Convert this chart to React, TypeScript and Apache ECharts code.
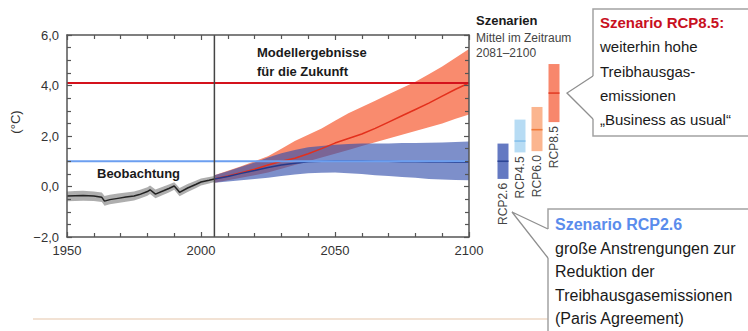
import React, { useEffect, useRef } from "react";
import * as echarts from "echarts";

// ---------- data ----------
const obsYears = [1950, 1953, 1956, 1960, 1963, 1964, 1966, 1969, 1972, 1975, 1977, 1980, 1981, 1983, 1986, 1988, 1990, 1991, 1992, 1995, 1998, 2000, 2003, 2005];
const obsMean = [-0.38, -0.37, -0.36, -0.38, -0.43, -0.58, -0.52, -0.47, -0.42, -0.38, -0.32, -0.2, -0.13, -0.3, -0.17, -0.08, 0.02, -0.1, -0.23, -0.06, 0.08, 0.18, 0.25, 0.3];
const obsUpper = [-0.2, -0.18, -0.17, -0.2, -0.24, -0.38, -0.33, -0.28, -0.24, -0.2, -0.14, -0.03, 0.04, -0.12, 0.0, 0.08, 0.17, 0.06, -0.06, 0.1, 0.23, 0.32, 0.38, 0.42];
const obsLower = [-0.58, -0.57, -0.56, -0.57, -0.61, -0.76, -0.7, -0.65, -0.6, -0.55, -0.49, -0.37, -0.3, -0.47, -0.33, -0.24, -0.13, -0.26, -0.39, -0.22, -0.07, 0.04, 0.12, 0.18];

const projYears = [2005, 2010, 2015, 2020, 2025, 2030, 2035, 2040, 2045, 2050, 2055, 2060, 2065, 2070, 2075, 2080, 2085, 2090, 2095, 2100];
const rcp85Mean = [0.3, 0.42, 0.55, 0.68, 0.85, 1.0, 1.12, 1.3, 1.5, 1.72, 1.9, 2.08, 2.3, 2.55, 2.8, 3.05, 3.3, 3.58, 3.85, 4.1];
const rcp85Upper = [0.45, 0.62, 0.8, 1.0, 1.2, 1.5, 1.8, 2.05, 2.3, 2.6, 2.9, 3.15, 3.4, 3.65, 3.9, 4.15, 4.45, 4.75, 5.1, 5.45];
const rcp85Lower = [0.15, 0.25, 0.35, 0.45, 0.55, 0.7, 0.85, 1.0, 1.15, 1.3, 1.45, 1.6, 1.75, 1.9, 2.05, 2.2, 2.35, 2.5, 2.68, 2.85];
const rcp26Mean = [0.3, 0.4, 0.52, 0.63, 0.75, 0.85, 0.92, 0.98, 1.0, 1.02, 1.02, 1.02, 1.0, 1.0, 0.98, 0.98, 0.97, 0.97, 0.96, 0.96];
const rcp26Upper = [0.45, 0.6, 0.78, 0.95, 1.15, 1.32, 1.45, 1.55, 1.6, 1.65, 1.68, 1.7, 1.7, 1.7, 1.72, 1.72, 1.73, 1.74, 1.76, 1.78];
const rcp26Lower = [0.15, 0.2, 0.25, 0.3, 0.35, 0.42, 0.48, 0.52, 0.54, 0.55, 0.52, 0.5, 0.45, 0.42, 0.38, 0.35, 0.3, 0.28, 0.26, 0.25];

const level85 = 4.1;
const level26 = 1.0;
const splitYear = 2005;

const scenarios = ["RCP2.6", "RCP4.5", "RCP6.0", "RCP8.5"];
const scenMean = [1.0, 1.8, 2.25, 3.7];
const scenLow = [0.3, 1.35, 1.4, 2.55];
const scenHigh = [1.7, 2.65, 3.15, 4.85];

const yTicks = [-2, 0, 2, 4, 6];
const xTicks = [1950, 2000, 2050, 2100];

// ---------- styles ----------
const FONT = '"Liberation Sans", Arial, Helvetica, sans-serif';
const scenFill = ["#6479c2", "#b7dcf4", "#fbb58f", "#f8876c"];
const scenLine = ["#2c4595", "#86c0ea", "#f07a3a", "#e33d26"];
const GRID = { left: 67, top: 35, width: 402, height: 202 };

const mkLine = () => ({ show: true, onZero: false, lineStyle: { color: "#555", width: 1.5 } });
const mkTick = () => ({ show: true, inside: true, length: 5, lineStyle: { color: "#555", width: 1.2 } });
const mkMinor = (n: number) => ({ show: true, splitNumber: n, length: 4, lineStyle: { color: "#555", width: 1.2 } });

function bandSeries(years: number[], lower: number[], upper: number[], fill: string, z: number) {
  return {
    type: "custom",
    xAxisIndex: 0,
    yAxisIndex: 0,
    z,
    silent: true,
    data: years.map((y, i) => [y, lower[i], upper[i]]),
    encode: { x: 0, y: [1, 2] },
    renderItem: (params: any, api: any) => {
      if (params.dataIndex !== 0) return null;
      const pts: number[][] = [];
      for (let i = 0; i < years.length; i++) pts.push(api.coord([years[i], upper[i]]));
      for (let i = years.length - 1; i >= 0; i--) pts.push(api.coord([years[i], lower[i]]));
      return { type: "polygon", shape: { points: pts }, style: { fill } };
    },
  };
}

function lineSeries(data: number[][], color: string, width: number, z: number) {
  return {
    type: "line",
    xAxisIndex: 0,
    yAxisIndex: 0,
    z,
    silent: true,
    symbol: "none",
    data,
    lineStyle: { color, width },
  };
}

function txt(text: string, x: number, y: number, size: number, opts: any = {}) {
  return {
    type: "text",
    x,
    y,
    z: 100,
    rotation: opts.rotation || 0,
    style: {
      text,
      fill: opts.fill || "#1a1a1a",
      font: `${opts.bold ? "bold " : ""}${size}px ${FONT}`,
      align: opts.align || "left",
      verticalAlign: "middle",
      textAlign: opts.align || "left",
      textVerticalAlign: "middle",
    },
  };
}

const staticGraphics: any[] = [
  txt("(\u00B0C)", 15, 122, 13, { rotation: Math.PI / 2, align: "center", fill: "#333" }),
  txt("Modellergebnisse", 257, 52, 13, { bold: true }),
  txt("f\u00FCr die Zukunft", 257, 71, 13, { bold: true }),
  txt("Beobachtung", 97, 173, 13, { bold: true }),
  txt("Szenarien", 476, 20, 13, { bold: true }),
  txt("Mittel im Zeitraum", 476, 38, 12, { fill: "#444" }),
  txt("2081\u20132100", 476, 53, 12, { fill: "#444" }),
  {
    type: "line",
    z: 90,
    shape: { x1: 33, y1: 319, x2: 548, y2: 319 },
    style: { stroke: "#f2e2d4", lineWidth: 2 },
  },
  {
    type: "rect",
    z: 95,
    shape: { x: 593, y: 9, width: 170, height: 127 },
    style: { fill: "#fff", stroke: "#a3a3a3", lineWidth: 1.5 },
  },
  {
    type: "polygon",
    z: 96,
    shape: { points: [[567, 93], [593, 76], [595, 76], [595, 119], [593, 119]] },
    style: { fill: "#fff" },
  },
  {
    type: "polyline",
    z: 97,
    shape: { points: [[593, 76], [567, 93], [593, 119]] },
    style: { stroke: "#8f8f8f", lineWidth: 1.3, fill: "none" },
  },
  txt("Szenario RCP8.5:", 600, 22, 15, { bold: true, fill: "#c8101e" }),
  txt("weiterhin hohe", 600, 46, 15),
  txt("Treibhausgas-", 600, 71, 15),
  txt("emissionen", 600, 95, 15),
  txt("\u201EBusiness as usual\u201C", 600, 119, 15),
  {
    type: "rect",
    z: 95,
    shape: { x: 548, y: 209, width: 210, height: 140 },
    style: { fill: "#fff", stroke: "#a3a3a3", lineWidth: 1.5 },
  },
  {
    type: "polygon",
    z: 96,
    shape: { points: [[512, 212], [548, 229], [550, 229], [550, 258], [548, 258]] },
    style: { fill: "#fff" },
  },
  {
    type: "polyline",
    z: 97,
    shape: { points: [[548, 229], [512, 212], [548, 258]] },
    style: { stroke: "#8f8f8f", lineWidth: 1.3, fill: "none" },
  },
  txt("Szenario RCP2.6", 555, 224, 16, { bold: true, fill: "#5a8cec" }),
  txt("gro\u00DFe Anstrengungen zur", 555, 248, 16),
  txt("Reduktion der", 555, 271, 16),
  txt("Treibhausgasemissionen", 555, 295, 16),
  txt("(Paris Agreement)", 555, 318, 16),
];

// overlay with the plot frame: four axes with inward major/minor ticks
const frameOption: any = {
  animation: false,
  grid: [{ ...GRID }],
  xAxis: [
    { type: "value", min: 1950, max: 2100, interval: 50, position: "bottom", axisLine: mkLine(), axisTick: mkTick(), minorTick: mkMinor(5), splitLine: { show: false }, axisLabel: { show: false } },
    { type: "value", min: 1950, max: 2100, interval: 50, position: "top", axisLine: mkLine(), axisTick: mkTick(), minorTick: mkMinor(5), splitLine: { show: false }, axisLabel: { show: false } },
  ],
  yAxis: [
    { type: "value", min: -2, max: 6, interval: 2, position: "left", axisLine: mkLine(), axisTick: mkTick(), minorTick: mkMinor(4), splitLine: { show: false }, axisLabel: { show: false } },
    { type: "value", min: -2, max: 6, interval: 2, position: "right", axisLine: mkLine(), axisTick: mkTick(), minorTick: mkMinor(4), splitLine: { show: false }, axisLabel: { show: false } },
  ],
};

export default function App() {
  const ref = useRef<HTMLDivElement>(null);
  const frameRef = useRef<HTMLDivElement>(null);

  useEffect(() => {
    if (!ref.current || !frameRef.current) return;
    const chart = echarts.init(ref.current, undefined, { renderer: "svg" });
    const frame = echarts.init(frameRef.current, undefined, { renderer: "svg" });

    const option: any = {
      animation: false,
      grid: [
        { ...GRID },
        { left: 494.5, top: 35, width: 68, height: 202 },
      ],
      xAxis: [
        {
          type: "value",
          gridIndex: 0,
          min: 1950,
          max: 2100,
          interval: 50,
          position: "bottom",
          axisLine: { show: false },
          axisTick: { show: false },
          splitLine: { show: false },
          axisLabel: {
            color: "#333",
            fontSize: 13,
            fontFamily: FONT,
            margin: 7,
            formatter: (v: number) => (xTicks.includes(v) ? String(v) : ""),
          },
        },
        {
          type: "category",
          gridIndex: 1,
          data: scenarios,
          axisLine: { show: false },
          axisTick: { show: false },
          axisLabel: { show: false },
          splitLine: { show: false },
        },
      ],
      yAxis: [
        {
          type: "value",
          gridIndex: 0,
          min: -2,
          max: 6,
          interval: 2,
          position: "left",
          axisLine: { show: false },
          axisTick: { show: false },
          splitLine: { show: false },
          axisLabel: {
            color: "#333",
            fontSize: 13,
            fontFamily: FONT,
            margin: 8,
            formatter: (v: number) =>
              yTicks.includes(v) ? v.toFixed(1).replace(".", ",").replace("-", "\u2212") : "",
          },
        },
        {
          type: "value",
          gridIndex: 1,
          min: -2,
          max: 6,
          axisLine: { show: false },
          axisTick: { show: false },
          axisLabel: { show: false },
          splitLine: { show: false },
        },
      ],
      series: [
        bandSeries(projYears, rcp85Lower, rcp85Upper, "#f98b6e", 1),
        bandSeries(projYears, rcp26Lower, rcp26Upper, "rgba(52,80,172,0.64)", 2),
        bandSeries(obsYears, obsLower, obsUpper, "rgba(120,120,120,0.6)", 3),
        lineSeries(projYears.map((y, i) => [y, rcp85Mean[i]]), "#e3301c", 1.5, 4),
        lineSeries(projYears.map((y, i) => [y, rcp26Mean[i]]), "#25398a", 1.5, 4),
        lineSeries(obsYears.map((y, i) => [y, obsMean[i]]), "#222222", 1.5, 4),
        lineSeries([[1950, level85], [2100, level85]], "#d4121c", 2, 5),
        lineSeries([[1950, level26], [2100, level26]], "#6c9ff0", 2, 5),
        lineSeries([[splitYear, -2], [splitYear, 6]], "#444444", 1.5, 6),
        {
          type: "custom",
          xAxisIndex: 1,
          yAxisIndex: 1,
          z: 5,
          silent: true,
          data: scenarios.map((s, i) => [i, scenLow[i], scenHigh[i], scenMean[i]]),
          encode: { x: 0, y: [1, 2, 3] },
          renderItem: (params: any, api: any) => {
            const i = params.dataIndex;
            const x = api.value(0);
            const pTop = api.coord([x, api.value(2)]);
            const pBot = api.coord([x, api.value(1)]);
            const pM = api.coord([x, api.value(3)]);
            const w = 11;
            return {
              type: "group",
              children: [
                {
                  type: "rect",
                  shape: { x: pTop[0] - w / 2, y: pTop[1], width: w, height: pBot[1] - pTop[1] },
                  style: { fill: scenFill[i] },
                },
                {
                  type: "line",
                  shape: { x1: pM[0] - w / 2, y1: pM[1], x2: pM[0] + w / 2, y2: pM[1] },
                  style: { stroke: scenLine[i], lineWidth: 1.6 },
                },
                {
                  type: "text",
                  x: pBot[0],
                  y: pBot[1] + 4,
                  rotation: Math.PI / 2,
                  style: {
                    text: scenarios[i],
                    fill: "#444",
                    font: `12px ${FONT}`,
                    align: "right",
                    verticalAlign: "middle",
                    textAlign: "right",
                    textVerticalAlign: "middle",
                  },
                },
              ],
            };
          },
        },
      ],
      graphic: staticGraphics,
    };

    chart.setOption(option);
    frame.setOption(frameOption);

    return () => {
      frame.dispose();
      chart.dispose();
    };
  }, []);

  return (
    <div style={{ position: "fixed", left: 0, top: 0, width: 748, height: 331, background: "#fff" }}>
      <div ref={ref} style={{ position: "absolute", left: 0, top: 0, width: 748, height: 331 }} />
      <div
        ref={frameRef}
        style={{ position: "absolute", left: 0, top: 0, width: 748, height: 331, pointerEvents: "none" }}
      />
    </div>
  );
}
